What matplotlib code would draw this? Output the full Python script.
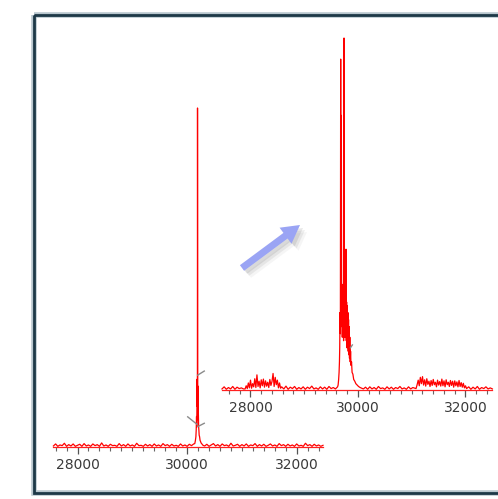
import numpy as np
import matplotlib.pyplot as plt
from matplotlib.patches import Rectangle, FancyArrow
from matplotlib.ticker import MultipleLocator

# ---- left spectrum (relative intensity %, sampled every 40 Da in the noise) ----
left_noise1 = [0.3, 0.9, 0.2, 0.6, 0.4, 1.1, 0.2, 0.7, 0.3, 0.9,
               0.2, 0.5, 0.8, 0.2, 1.0, 0.3, 0.6, 0.2, 0.9, 0.4,
               0.7, 0.2, 1.2, 0.3, 0.6, 0.2, 0.8, 0.4, 0.5, 0.2,
               1.0, 0.3, 0.7, 0.2, 0.9, 0.3, 0.6, 0.2, 1.1, 0.4,
               0.5, 0.2, 0.8, 0.3, 0.7, 0.2, 0.9, 0.3, 0.6, 0.2,
               1.0, 0.4, 0.7, 0.2, 0.8, 0.3, 0.5, 0.2, 0.9, 0.3,
               0.6, 0.2, 0.8, 0.4, 0.9]          # 27560 .. 30120
left_peak_mass = [30140, 30150, 30160, 30166, 30172, 30176, 30180, 30183, 30186, 30188,
                  30190, 30192, 30194, 30196, 30198, 30200, 30203, 30206, 30210, 30215,
                  30220, 30228, 30236, 30245, 30255, 30270, 30290]
left_peak_int = [1.0, 1.8, 3.0, 5.0, 9.0, 6.0, 14.0, 20.0, 12.0, 22.0,
                 100.0, 21.0, 13.0, 18.0, 10.0, 14.0, 8.0, 9.5, 6.0, 5.0,
                 3.5, 3.0, 2.0, 1.6, 1.2, 0.9, 0.5]
left_noise2 = [0.3, 0.8, 0.2, 0.6, 1.0, 0.3, 0.7, 0.2, 0.9, 0.4,
               0.6, 0.2, 1.1, 0.3, 0.5, 0.8, 0.2, 0.7, 0.3, 0.9,
               0.2, 0.6, 0.4, 1.0, 0.2, 0.7, 0.3, 0.8, 0.2, 0.5,
               0.9, 0.3, 0.6, 0.2, 1.0, 0.4, 0.7, 0.2, 0.8, 0.3,
               0.6, 0.2, 0.9, 0.3, 0.5, 0.2, 1.1, 0.4, 0.7, 0.2,
               0.8, 0.3, 0.6, 0.2, 0.5]          # 30320 .. 32480

# ---- right spectrum (zoomed) ----
right_noise1 = [0.3, 0.9, 0.2, 0.7, 0.3, 1.0, 0.2, 0.8, 0.4, 0.6, 0.3]   # 27470 .. 27870
right_cluster1 = [0.3, 1.2, 0.4, 2.0, 0.6, 2.8, 0.5, 1.8, 0.9, 3.2,
                  0.7, 4.3, 1.0, 2.5, 0.6, 2.9, 1.2, 3.1, 0.8, 2.6,
                  1.1, 2.2, 0.7, 3.0, 1.3, 2.4, 4.7, 1.0, 3.6, 1.5,
                  2.8, 0.6, 2.0, 0.5]             # 27900 .. 28560 every 20
right_noise2 = [0.9, 0.3, 1.1, 0.2, 0.8, 0.4, 1.0, 0.2, 0.7, 0.3,
                0.9, 0.2, 0.8, 0.4, 1.1, 0.3, 0.6, 0.2, 0.9, 0.3,
                0.8, 0.2, 1.0, 0.4, 0.7, 0.3, 0.9]  # 28580 .. 29620
right_peak_mass = [29630, 29640, 29648, 29655, 29660, 29666, 29672, 29678, 29684, 29690,
                   29696, 29702, 29708, 29714, 29720, 29726, 29732, 29738, 29740, 29744,
                   29750, 29756, 29762, 29768, 29774, 29777, 29782, 29788, 29794, 29800,
                   29806, 29812, 29818, 29824, 29830, 29836, 29842, 29848, 29855, 29862,
                   29870, 29880, 29890, 29905, 29920, 29940, 29960, 29985, 30010, 30040,
                   30070]
right_peak_int = [1.4, 3.0, 5.0, 8.0, 12.0, 22.0, 16.0, 94.0, 18.0, 78.0,
                  20.0, 28.0, 15.0, 30.0, 18.0, 27.0, 14.0, 29.0, 100.0, 20.0,
                  28.0, 15.0, 27.0, 17.0, 26.0, 40.0, 14.0, 25.0, 12.0, 24.0,
                  13.0, 22.0, 11.0, 20.0, 10.0, 18.0, 9.0, 15.0, 8.0, 11.0,
                  7.0, 8.0, 5.0, 4.5, 3.0, 2.5, 1.8, 1.4, 1.0, 0.7,
                  0.5]
right_noise3 = [0.3, 0.8, 0.2, 0.9, 0.3, 0.7, 0.2, 1.0, 0.4, 0.6,
                0.2, 0.9, 0.3, 0.8, 0.2, 0.7, 0.4, 1.0, 0.3, 0.6,
                0.2, 0.9, 0.3, 0.7, 0.5]          # 30100 .. 31060
right_cluster2 = [0.4, 1.5, 2.8, 1.2, 3.6, 1.8, 3.8, 1.4, 2.9, 1.1,
                  3.2, 1.6, 2.5, 1.0, 2.7, 1.3, 3.0, 1.5, 2.2, 0.9,
                  2.8, 1.4, 2.4, 1.1, 3.1, 1.2, 2.6, 0.9, 2.9, 1.5,
                  2.2, 1.0, 2.7, 1.3, 2.5, 0.8, 2.6, 1.2, 2.3, 0.9,
                  2.7, 1.0, 2.1, 0.8, 1.9, 0.6, 1.2]  # 31080 .. 32000 every 20
right_noise4 = [0.4, 0.9, 0.2, 0.8, 0.3, 1.0, 0.2, 0.7, 0.4, 0.9, 0.3, 0.6, 0.3]  # 32020 .. 32500

# small grey marks on the peaks
left_marks = [([30193, 30313], [21.2, 22.4]),
              ([30011, 30180], [8.9, 6.7]),
              ([30193, 30313], [6.0, 7.0])]
right_marks = [([29860, 29895], [12.0, 12.8])]

tick_labels = [28000, 30000, 32000]

# sampling grids for the noise parts
left_mass = np.concatenate([np.arange(27560, 30121, 40), left_peak_mass,
                            np.arange(30320, 32481, 40)])
left_int = np.concatenate([left_noise1, left_peak_int, left_noise2])
right_mass = np.concatenate([np.arange(27470, 27871, 40), np.arange(27900, 28561, 20),
                             np.arange(28580, 29621, 40), right_peak_mass,
                             np.arange(30100, 31061, 40), np.arange(31080, 32001, 20),
                             np.arange(32020, 32501, 40)])
right_int = np.concatenate([right_noise1, right_cluster1, right_noise2, right_peak_int,
                            right_noise3, right_cluster2, right_noise4])

W, H = 498, 499
fig = plt.figure(figsize=(W / 100, H / 100), dpi=100)


def add_spectrum(x0, x1, ybase, ytop, xlim, mass, inten, marks):
    # axes placed in pixel units, 100 % intensity at ytop
    ax = fig.add_axes([x0 / W, (H - ybase) / H, (x1 - x0) / W, (ybase - ytop) * 1.05 / H])
    ax.plot(mass, inten, color='#ff0000', lw=0.9, clip_on=False)
    for mx, my in marks:
        ax.plot(mx, my, color='#8a8a8a', lw=1.0, clip_on=False)
    ax.set_xlim(*xlim)
    ax.set_ylim(0, 105)
    ax.set_facecolor('none')
    for s in ['top', 'right', 'left']:
        ax.spines[s].set_visible(False)
    ax.spines['bottom'].set_color('#ff2020')
    ax.spines['bottom'].set_linewidth(0.9)
    ax.set_yticks([])
    ax.set_xticks(tick_labels)
    ax.xaxis.set_minor_locator(MultipleLocator(200))
    ax.tick_params(axis='x', which='major', length=5, width=0.9, color='#555555',
                   labelsize=10, labelcolor='#3a3a3a', pad=3)
    ax.tick_params(axis='x', which='minor', length=3, width=0.8, color='#666666')
    return ax


add_spectrum(52.7, 323, 447, 108, (27547, 32480), left_mass, left_int, left_marks)
add_spectrum(222, 492, 390, 38, (27470, 32493), right_mass, right_int, right_marks)

# overlay in pixel coords for the frame and arrow
ov = fig.add_axes([0, 0, 1, 1])
ov.set_xlim(0, W)
ov.set_ylim(H, 0)
ov.axis('off')
ov.set_facecolor('none')
ov.add_patch(Rectangle((34, 15), 520, 478, fill=False, ec='#b8c6ce', lw=4.0))
ov.add_patch(Rectangle((34, 15), 520, 478, fill=False, ec='#1d3847', lw=2.0))

# arrow shadow then arrow
for off, a in [(7, 0.06), (5, 0.10), (3, 0.14)]:
    ov.add_patch(FancyArrow(242 + off, 268 + off, 58, -43, width=7, head_width=20,
                            head_length=18, length_includes_head=True,
                            color='#606060', alpha=a, lw=0))
ov.add_patch(FancyArrow(242, 268, 58, -43, width=7, head_width=20, head_length=18,
                        length_includes_head=True, color='#9aa4f4', lw=0))

fig.savefig('out.png', dpi=100)
